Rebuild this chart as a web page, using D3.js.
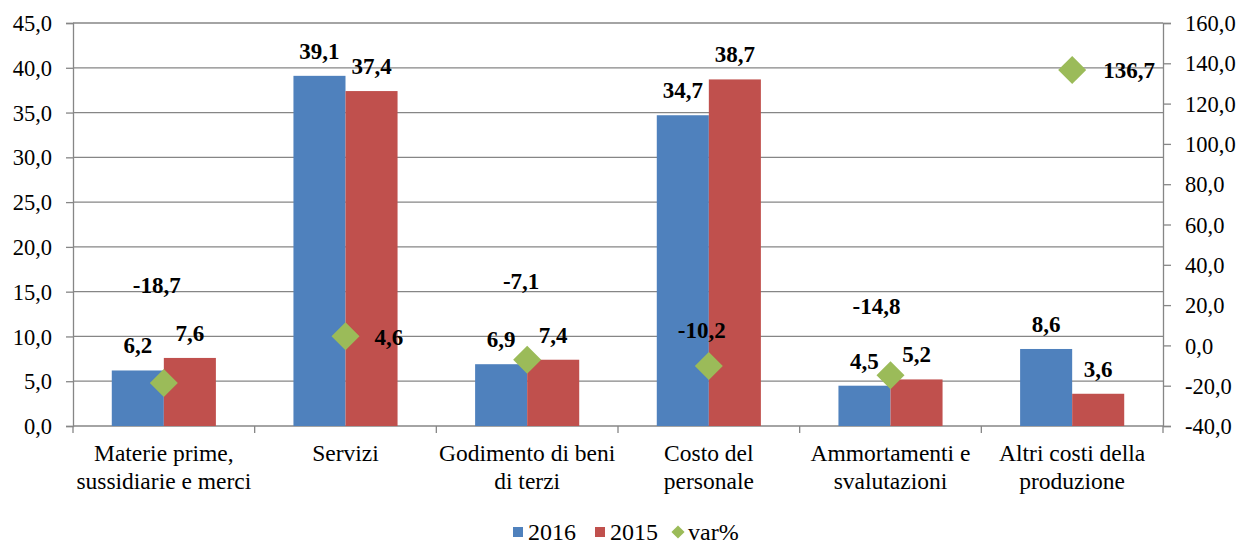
<!DOCTYPE html>
<html>
<head>
<meta charset="utf-8">
<script src="https://cdn.jsdelivr.net/npm/d3@7"></script>
<style>
  body { margin: 0; background: #fff; }
  svg text { font-family: "Liberation Serif", "Times New Roman", "DejaVu Serif", serif; fill: #000; }
</style>
</head>
<body>
<div id="chart"></div>
<script>
// categories and values
const categories = [
  ["Materie prime,", "sussidiarie e merci"],
  ["Servizi"],
  ["Godimento di beni", "di terzi"],
  ["Costo del", "personale"],
  ["Ammortamenti e", "svalutazioni"],
  ["Altri costi della", "produzione"]
];
const values2016 = [6.2, 39.1, 6.9, 34.7, 4.5, 8.6];
const values2015 = [7.6, 37.4, 7.4, 38.7, 5.2, 3.6];
const varPct     = [-18.7, 4.6, -7.1, -10.2, -14.8, 136.7];

const leftTicks  = d3.range(0, 45.01, 5);
const rightTicks = d3.range(-40, 160.01, 20);

const fmt = v => d3.format(".1f")(v).replace(".", ",").replace("−", "-");

// hand-placed var% labels (as in the source chart): [dx, dy, anchor]
const varLabelPos = [
  [-7, -90, "middle"],
  [29, 9, "start"],
  [-6, -71, "middle"],
  [-7, -28, "middle"],
  [-14, -61, "middle"],
  [31, 8, "start"]
];

const width = 1244, height = 546;
const margin = { top: 23, right: 81, bottom: 120, left: 73 };
const serif = '"Liberation Serif", "Times New Roman", "DejaVu Serif", serif';

const svg = d3.select("#chart").append("svg")
  .attr("width", width)
  .attr("height", height)
  .attr("font-family", serif);

const x = d3.scaleBand()
  .domain(d3.range(categories.length))
  .range([margin.left, width - margin.right]);

const xInner = d3.scaleBand()
  .domain(["2016", "2015"])
  .range([0, x.bandwidth()])
  .paddingOuter(0.745);

const y = d3.scaleLinear().domain([0, 45]).range([height - margin.bottom, margin.top]);
const y2 = d3.scaleLinear().domain([-40, 160]).range([height - margin.bottom, margin.top]);

const gridColor = "#868686";
const colors = { "2016": "#4F81BD", "2015": "#C0504D", var: "#9BBB59" };

// gridlines
svg.append("g")
  .selectAll("line")
  .data(leftTicks.filter(d => d > 0))
  .join("line")
    .attr("x1", margin.left).attr("x2", width - margin.right)
    .attr("y1", d => y(d)).attr("y2", d => y(d))
    .attr("stroke", gridColor).attr("stroke-width", 1.3);

// left axis
const yAxis = svg.append("g")
  .attr("transform", `translate(${margin.left},0)`)
  .call(d3.axisLeft(y).tickValues(leftTicks).tickFormat(fmt).tickSize(7).tickPadding(14));

// right axis
const yAxis2 = svg.append("g")
  .attr("transform", `translate(${width - margin.right},0)`)
  .call(d3.axisRight(y2).tickValues(rightTicks).tickFormat(fmt).tickSize(8).tickPadding(14));

[yAxis, yAxis2].forEach(g => {
  g.attr("font-family", serif).attr("font-size", null);
  g.selectAll("text").style("font-size", "22.5px").attr("dy", "0.34em");
  g.select(".domain").attr("stroke", gridColor).attr("stroke-width", 1.3);
  g.selectAll(".tick line").attr("stroke", gridColor).attr("stroke-width", 1.3);
});

// x axis
const xAxis = svg.append("g")
  .attr("transform", `translate(0,${y(0)})`);
xAxis.append("line")
  .attr("x1", margin.left).attr("x2", width - margin.right)
  .attr("stroke", gridColor).attr("stroke-width", 1.3);
xAxis.selectAll("line.tick")
  .data(d3.range(categories.length + 1))
  .join("line")
    .attr("class", "tick")
    .attr("x1", d => margin.left + d * x.step())
    .attr("x2", d => margin.left + d * x.step())
    .attr("y1", 0).attr("y2", 7)
    .attr("stroke", gridColor).attr("stroke-width", 1.3);

// category labels
svg.append("g")
  .selectAll("text")
  .data(categories)
  .join("text")
    .attr("x", (d, i) => x(i) + x.bandwidth() / 2)
    .attr("y", y(0) + 35)
    .attr("text-anchor", "middle")
    .style("font-size", "23.5px")
    .selectAll("tspan")
    .data(d => d)
    .join("tspan")
      .attr("x", function () { return this.parentNode.getAttribute("x"); })
      .attr("dy", (d, i) => i === 0 ? 0 : 28)
      .text(d => d);

// bars
const series = [
  { key: "2016", values: values2016 },
  { key: "2015", values: values2015 }
];
const barG = svg.append("g");
series.forEach(s => {
  barG.selectAll(`rect.b${s.key}`)
    .data(s.values)
    .join("rect")
      .attr("x", (d, i) => x(i) + xInner(s.key))
      .attr("width", xInner.bandwidth())
      .attr("y", d => y(d))
      .attr("height", d => y(0) - y(d))
      .attr("fill", colors[s.key]);
});

// var% diamonds
const diamond = d3.symbol().type(d3.symbolDiamond2).size(500);
svg.append("g")
  .selectAll("path")
  .data(varPct)
  .join("path")
    .attr("d", diamond)
    .attr("transform", (d, i) => `translate(${x(i) + x.bandwidth() / 2},${y2(d)})`)
    .attr("fill", colors.var);

// bar labels
series.forEach(s => {
  svg.append("g")
    .selectAll("text")
    .data(s.values)
    .join("text")
      .attr("x", (d, i) => x(i) + xInner(s.key) + xInner.bandwidth() / 2)
      .attr("y", d => y(d) - 17)
      .attr("text-anchor", "middle")
      .style("font-size", "23px")
      .style("font-weight", "bold")
      .text(fmt);
});

// var% labels
svg.append("g")
  .selectAll("text")
  .data(varPct)
  .join("text")
    .attr("x", (d, i) => x(i) + x.bandwidth() / 2 + varLabelPos[i][0])
    .attr("y", (d, i) => y2(d) + varLabelPos[i][1])
    .attr("text-anchor", (d, i) => varLabelPos[i][2])
    .style("font-size", "23px")
    .style("font-weight", "bold")
    .text(fmt);

// legend
const legendItems = [
  { key: "2016", label: "2016", shape: "square" },
  { key: "2015", label: "2015", shape: "square" },
  { key: "var", label: "var%", shape: "diamond" }
];
const legend = svg.append("g").attr("transform", "translate(513,532)");
const legendX = [0, 82, 160];
legendItems.forEach((item, i) => {
  const g = legend.append("g").attr("transform", `translate(${legendX[i]},0)`);
  if (item.shape === "square") {
    g.append("rect").attr("x", 0).attr("y", -5).attr("width", 10).attr("height", 10)
      .attr("fill", colors[item.key]);
  } else {
    g.append("path").attr("d", d3.symbol().type(d3.symbolDiamond2).size(110))
      .attr("transform", "translate(5,0)").attr("fill", colors[item.key]);
  }
  g.append("text").attr("x", 15).attr("y", 8)
    .style("font-size", "24px")
    .text(item.label);
});
</script>
</body>
</html>
